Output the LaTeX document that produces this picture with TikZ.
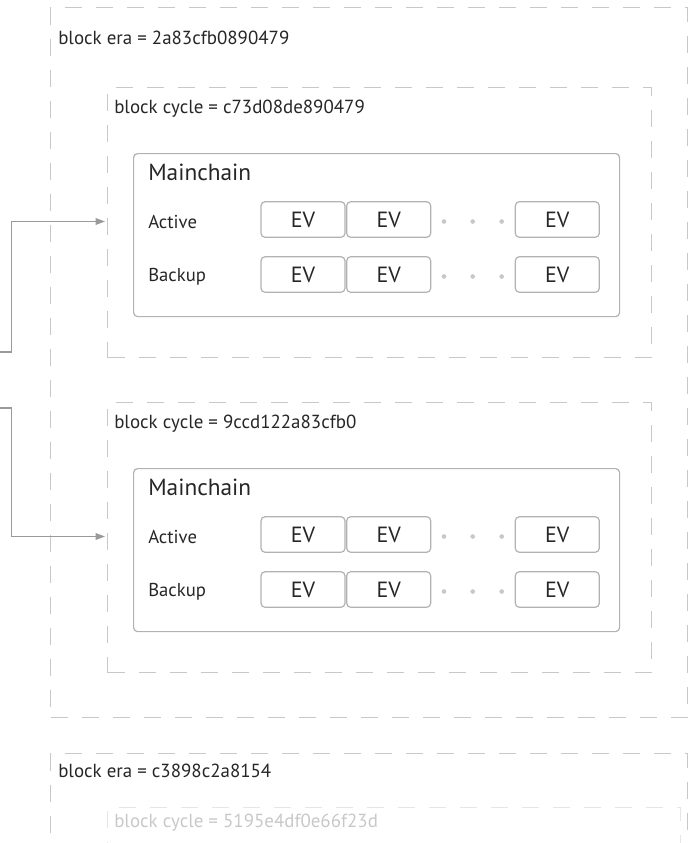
\documentclass[tikz,border=0pt]{standalone}
\usepackage{fontspec}
\setmainfont{PT Sans}
\usetikzlibrary{arrows.meta}
\definecolor{dashgray}{HTML}{C8C8C8}
\definecolor{fadegray}{HTML}{E6E6E6}
\definecolor{boxgray}{HTML}{B2B2B2}
\definecolor{linkgray}{HTML}{9A9A9A}
\definecolor{inkgray}{HTML}{262626}
\def\px{0.75pt}
\tikzset{x=0.75pt, y=-0.75pt,
 dashbox/.style={draw=dashgray, line width=0.8pt, dash pattern=on 12.75pt off 10.5pt,
   anchor=north west, inner sep=0pt},
 fadebox/.style={dashbox, draw=fadegray},
 chainbox/.style={draw=boxgray, line width=0.9pt, rounded corners=3pt,
   anchor=north west, inner sep=0pt},
 ev/.style={draw=boxgray, line width=0.9pt, rounded corners=3pt, inner sep=0pt,
   minimum width=84*\px, minimum height=35.5*\px, text=inkgray,
   font=\fontsize{16.5}{18}\selectfont},
 tag/.style={anchor=west, inner sep=0pt, text=inkgray, font=\fontsize{14.2}{16}\selectfont},
 bigtag/.style={tag, font=\fontsize{17.5}{20}\selectfont},
 smalltag/.style={tag, font=\fontsize{14}{16}\selectfont},
 dot/.style={circle, fill=dashgray, inner sep=0pt, minimum size=3.5pt},
 link/.style={draw=linkgray, line width=0.9pt, shorten >=1.5pt,
   -{Triangle[length=7pt,width=5pt]}},
}

\begin{document}
\begin{tikzpicture}
    \useasboundingbox (0,0) rectangle (689,843);
    \clip (0,0) rectangle (689,843);
    \node[dashbox, minimum width=637*\px, minimum height=710*\px] (era1) at (50,7) {};
    \node[tag] (eralbl1) at (58,38) {block era = 2a83cfb0890479};
    \foreach \n/\dy/\id in {1/0/c73d08de890479, 2/315/9ccd122a83cfb0} {
        \begin{scope}[shift={(0,\dy)}]
            \node[dashbox, minimum width=544*\px, minimum height=270*\px] (cyc\n) at (107,87) {};
            \node[tag] (cyclbl\n) at (114,109) {block cycle = \id};
            \node[chainbox, minimum width=486*\px, minimum height=163*\px] (chain\n) at (133,153) {};
            \node[bigtag] (name\n) at (148,172) {Mainchain};
            \foreach \r/\ry/\ty/\lbl in {a/219.5/221.5/Active, b/274.5/276.5/Backup} {
                \node[smalltag] (\r\n) at (148,\ty) {\lbl};
                \foreach \ex [count=\k] in {303, 388.7, 557.3}
                    \node[ev] (\r\n ev\k) at (\ex,\ry) {EV};
                \foreach \dx [count=\j] in {444, 472.7, 501.7}
                    \node[dot] (\r\n d\j) at (\dx,\ty) {};
            }
        \end{scope}
    }
    \coordinate (from1) at (0,352);
    \coordinate (from2) at (0,408);
    \draw[link] (from1) -- ++(11.7,0) |- (cyc1.west |- a1.west);
    \draw[link] (from2) -- ++(11.7,0) |- (cyc2.west |- a2.west);
    \node[dashbox, minimum width=637*\px, minimum height=90*\px] (era2) at (50,753) {};
    \node[tag] (eralbl2) at (58,771) {block era = c3898c2a8154};
    \node[fadebox, minimum width=573*\px, minimum height=60*\px] (cyc3) at (107,807) {};
    \node[tag, text=dashgray] (cyclbl3) at (114,823) {block cycle = 5195e4df0e66f23d};
\end{tikzpicture}
\end{document}
